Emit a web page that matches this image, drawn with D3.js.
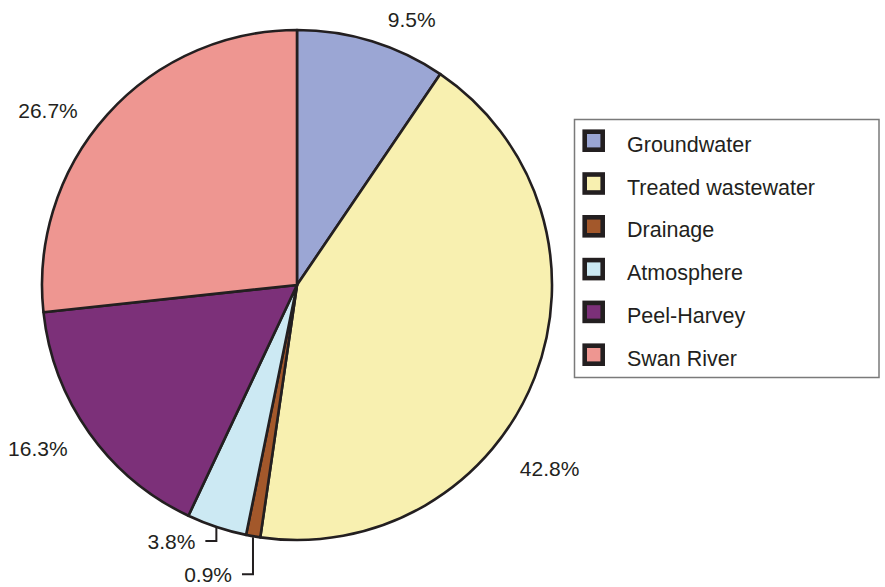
<!DOCTYPE html>
<html>
<head>
<meta charset="utf-8">
<script src="https://cdn.jsdelivr.net/npm/d3@7"></script>
<style>
  html, body { margin: 0; padding: 0; background: #ffffff; }
  svg { display: block; }
  text { font-family: "Liberation Sans", Arial, Helvetica, sans-serif; fill: #231f20; }
</style>
</head>
<body>
<svg id="chart" width="885" height="587"></svg>
<script>
// ---- Data ----
const categories = ["Groundwater", "Treated wastewater", "Drainage", "Atmosphere", "Peel-Harvey", "Swan River"];
const shares = [9.5, 42.8, 0.9, 3.8, 16.3, 26.7];
const labels = ["9.5%", "42.8%", "0.9%", "3.8%", "16.3%", "26.7%"];
const colors = ["#9ba6d4", "#f8f0b0", "#a3582b", "#cce9f3", "#7c3079", "#ee9691"];

// ---- Layout ----
const W = 885, H = 587;
const cx = 297, cy = 285, R = 255;
const svg = d3.select("#chart");

const color = d3.scaleOrdinal().domain(categories).range(colors);
const pie = d3.pie().sort(null).value(d => d.value).startAngle(0).endAngle(2 * Math.PI);
const arcs = pie(categories.map((c, i) => ({ cat: c, value: shares[i], label: labels[i] })));
const arc = d3.arc().innerRadius(0).outerRadius(R);
const labelArc = d3.arc().innerRadius(285).outerRadius(285);
const edgeArc = d3.arc().innerRadius(R + 1).outerRadius(R + 1);

const g = svg.append("g").attr("transform", `translate(${cx},${cy})`);

g.selectAll("path.slice")
  .data(arcs)
  .join("path")
  .attr("class", "slice")
  .attr("d", arc)
  .attr("fill", d => color(d.data.cat))
  .attr("stroke", "#231f20")
  .attr("stroke-width", 2.6)
  .attr("stroke-linejoin", "round");

// label placement tweaks (layout only)
const nudge = {
  "Groundwater": [31, 7],
  "Treated wastewater": [-13, 80],
  "Peel-Harvey": [-27, -2],
  "Swan River": [-37, 16]
};
const leader = {
  "Drainage": { drop: 37, run: 11, textDy: 0 },
  "Atmosphere": { drop: 13, run: 11, textDy: 1 }
};

arcs.forEach(d => {
  const cat = d.data.cat;
  if (leader[cat]) {
    const [sx, sy] = edgeArc.centroid(d);
    const L = leader[cat];
    const ey = sy + L.drop;
    const ex = sx - L.run;
    g.append("path")
      .attr("d", d3.line()([[sx, sy], [sx, ey], [ex, ey]]))
      .attr("fill", "none")
      .attr("stroke", "#231f20")
      .attr("stroke-width", 2);
    g.append("text")
      .attr("x", ex - 10)
      .attr("y", ey + L.textDy)
      .attr("text-anchor", "end")
      .attr("dominant-baseline", "central")
      .attr("font-size", 21)
      .text(d.data.label);
  } else {
    const [lx, ly] = labelArc.centroid(d);
    const [dx, dy] = nudge[cat] || [0, 0];
    g.append("text")
      .attr("x", lx + dx)
      .attr("y", ly + dy)
      .attr("text-anchor", "middle")
      .attr("dominant-baseline", "central")
      .attr("font-size", 21)
      .text(d.data.label);
  }
});

// ---- Legend ----
const legend = svg.append("g");
legend.append("rect")
  .attr("x", 574.5).attr("y", 119.5)
  .attr("width", 304.5).attr("height", 258)
  .attr("fill", "#ffffff")
  .attr("stroke", "#7a7a7a")
  .attr("stroke-width", 1.5);

const ly = d3.scalePoint().domain(categories).range([140.7, 354.7]);
const rows = legend.selectAll("g.row").data(categories).join("g")
  .attr("class", "row")
  .attr("transform", d => `translate(0,${ly(d)})`);
rows.append("rect")
  .attr("x", 584.7).attr("y", -9)
  .attr("width", 18).attr("height", 18)
  .attr("fill", d => color(d))
  .attr("stroke", "#231f20")
  .attr("stroke-width", 4.6);
rows.append("text")
  .attr("x", 627)
  .attr("y", 11)
  .attr("font-size", 21.5)
  .text(d => d);
</script>
</body>
</html>
